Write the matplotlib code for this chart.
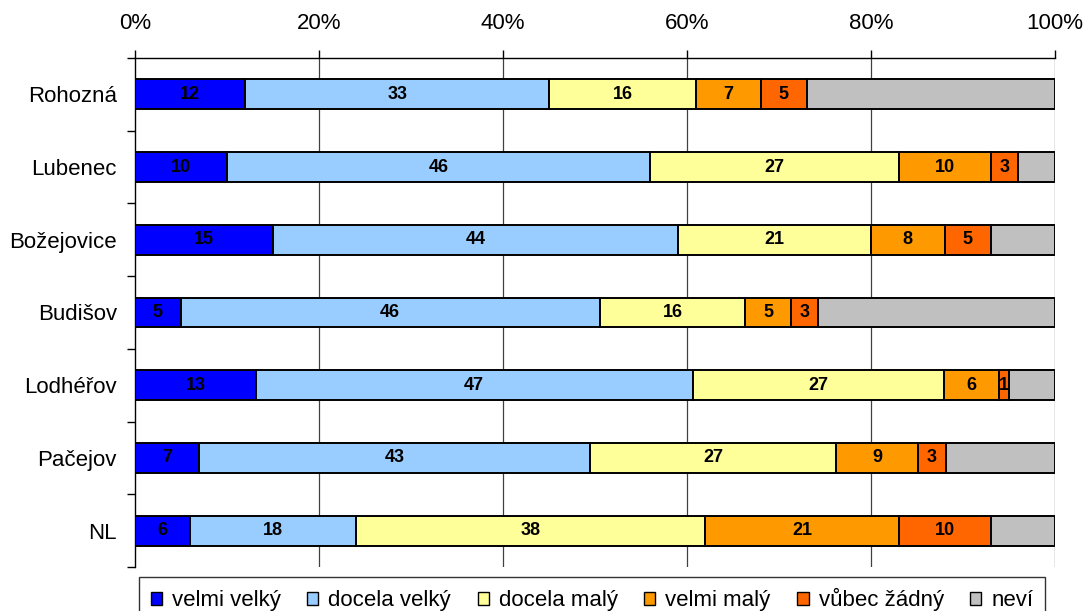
import matplotlib
matplotlib.use("Agg")
import matplotlib.pyplot as plt
import numpy as np
from matplotlib.patches import Patch

plt.rcParams['font.family'] = ['Liberation Sans', 'DejaVu Sans']

places = ["Rohozná", "Lubenec", "Božejovice", "Budišov", "Lodhéřov", "Pačejov", "NL"]
answers = ["velmi velký", "docela velký", "docela malý", "velmi malý", "vůbec žádný", "neví"]
colors = ["#0000FF", "#99CCFF", "#FFFF99", "#FF9900", "#FF6600", "#C0C0C0"]

velmi_velky = [12, 10, 15, 5, 13, 7, 6]
docela_velky = [33, 46, 44, 46, 47, 43, 18]
docela_maly = [16, 27, 21, 16, 27, 27, 38]
velmi_maly = [7, 10, 8, 5, 6, 9, 21]
vubec_zadny = [5, 3, 5, 3, 1, 3, 10]
nevi = [27, 4, 7, 26, 5, 12, 7]

series = [velmi_velky, docela_velky, docela_maly, velmi_maly, vubec_zadny, nevi]

data = np.array(series, dtype=float)
shares = data / data.sum(axis=0) * 100

fig = plt.figure(figsize=(10.85, 6.11), dpi=100)
ax = fig.add_axes([0.1244, 0.072, 0.848, 0.8331])

y = np.arange(len(places))
left = np.zeros(len(places))
for i, (name, col) in enumerate(zip(answers, colors)):
    ax.barh(y, shares[i], left=left, height=0.41, color=col,
            edgecolor='black', linewidth=1.4, zorder=3)
    if i < len(answers) - 1:
        for j in range(len(places)):
            ax.text(left[j] + shares[i][j] / 2, y[j], str(series[i][j]),
                    ha='center', va='center', fontsize=13, fontweight='bold',
                    color='black', zorder=4)
    left += shares[i]

ax.set_xlim(0, 100)
ax.set_ylim(len(places) - 0.5, -0.5)
ax.set_xticks(np.arange(0, 101, 20))
ax.set_xticklabels([f"{v}%" for v in range(0, 101, 20)])
ax.xaxis.tick_top()
ax.tick_params(axis='x', direction='out', length=6, width=1, pad=11,
               labelsize=16, colors='black')

ax.set_yticks(y)
ax.set_yticklabels(places)
ax.set_yticks(np.arange(-0.5, len(places)), minor=True)
ax.tick_params(axis='y', which='major', length=0, pad=13, labelsize=16)
ax.tick_params(axis='y', which='minor', length=6, width=1)

for v in range(20, 101, 20):
    ax.axvline(v, color='#404040', linewidth=0.9, zorder=1)

for s in ['right', 'bottom']:
    ax.spines[s].set_visible(False)
for s in ['top', 'left']:
    ax.spines[s].set_linewidth(1)
    ax.spines[s].set_color('black')

handles = [Patch(facecolor=c, edgecolor='black', linewidth=1) for c in colors]
leg = fig.legend(handles, answers, loc='upper center', ncol=6,
                 bbox_to_anchor=(0.5456, 0.0556), fontsize=16, frameon=True,
                 fancybox=False, edgecolor='black', handlelength=0.5,
                 handleheight=0.5, handletextpad=0.45, columnspacing=1.2,
                 borderpad=0.5, borderaxespad=0)
leg.get_frame().set_linewidth(1)

fig.savefig("out.png", dpi=100)
